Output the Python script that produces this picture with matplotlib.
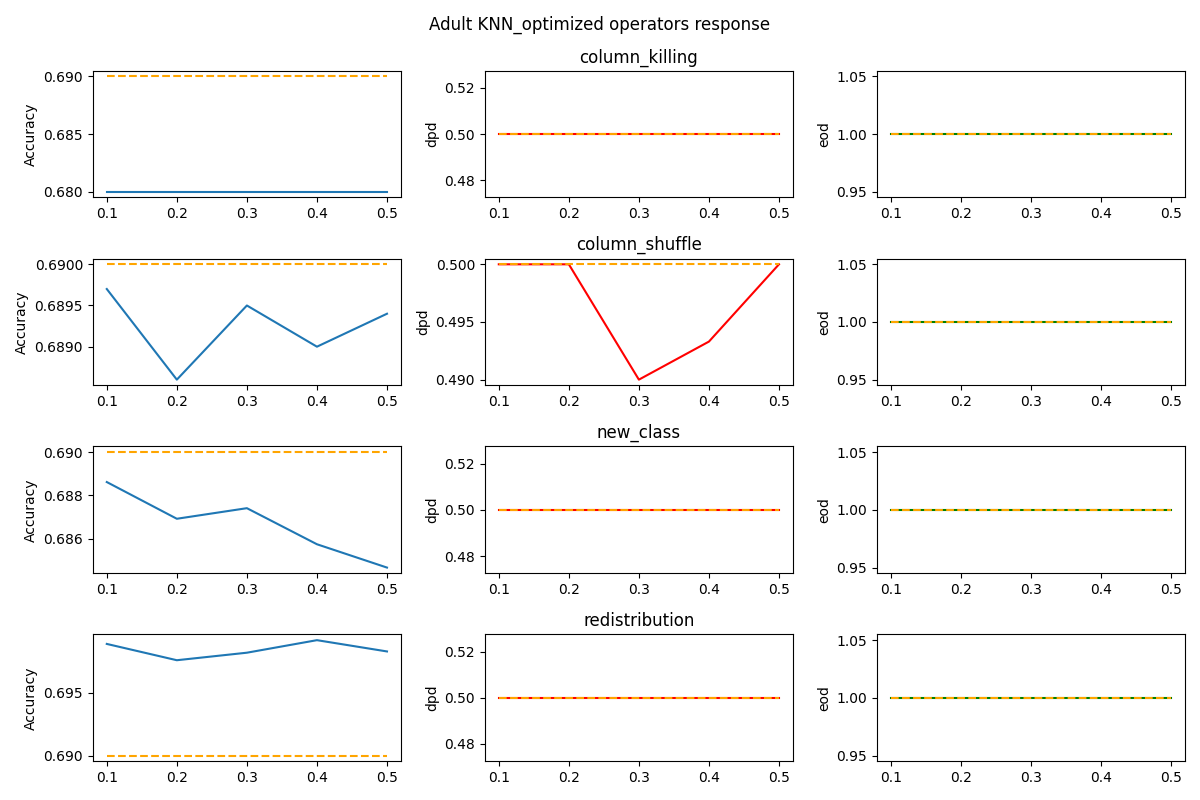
import matplotlib
matplotlib.use('Agg')
import matplotlib.pyplot as plt
import numpy as np

# fraction of data altered by each operator
levels = [0.1, 0.2, 0.3, 0.4, 0.5]
operators = ['column_killing', 'column_shuffle', 'new_class', 'redistribution']

# optimized reference values (dashed lines)
acc_ref = [0.69, 0.69, 0.69, 0.69]
dpd_ref = [0.5, 0.5, 0.5, 0.5]
eod_ref = [1.0, 1.0, 1.0, 1.0]

acc_killing = [0.68, 0.68, 0.68, 0.68, 0.68]
acc_shuffle = [0.6897, 0.6886, 0.6895, 0.6890, 0.6894]
acc_new_class = [0.68862, 0.68692, 0.68741, 0.68574, 0.68466]
acc_redistribution = [0.6989, 0.6976, 0.6982, 0.6992, 0.6983]

dpd_killing = [0.5, 0.5, 0.5, 0.5, 0.5]
dpd_shuffle = [0.5, 0.5, 0.49, 0.4933, 0.5]
dpd_new_class = [0.5, 0.5, 0.5, 0.5, 0.5]
dpd_redistribution = [0.5, 0.5, 0.5, 0.5, 0.5]

eod_killing = [1.0, 1.0, 1.0, 1.0, 1.0]
eod_shuffle = [1.0, 1.0, 1.0, 1.0, 1.0]
eod_new_class = [1.0, 1.0, 1.0, 1.0, 1.0]
eod_redistribution = [1.0, 1.0, 1.0, 1.0, 1.0]

acc = [acc_killing, acc_shuffle, acc_new_class, acc_redistribution]
dpd = [dpd_killing, dpd_shuffle, dpd_new_class, dpd_redistribution]
eod = [eod_killing, eod_shuffle, eod_new_class, eod_redistribution]

fig, axs = plt.subplots(4, 3, figsize=(12, 8))
fig.suptitle('Adult KNN_optimized operators response')

for i, op in enumerate(operators):
    ax = axs[i, 0]
    ax.plot(levels, acc[i])
    ax.plot(levels, [acc_ref[i]] * len(levels), color='orange', linestyle='--')
    ax.set_ylabel('Accuracy')

    ax = axs[i, 1]
    ax.plot(levels, dpd[i], color='red')
    ax.plot(levels, [dpd_ref[i]] * len(levels), color='orange', linestyle='--')
    ax.set_ylabel('dpd')
    ax.set_title(op)

    ax = axs[i, 2]
    ax.plot(levels, eod[i], color='green')
    ax.plot(levels, [eod_ref[i]] * len(levels), color='orange', linestyle='--')
    ax.set_ylabel('eod')

    for ax in axs[i]:
        ax.set_xticks(levels)

plt.tight_layout()
plt.savefig('out.png', dpi=100)
plt.close()
